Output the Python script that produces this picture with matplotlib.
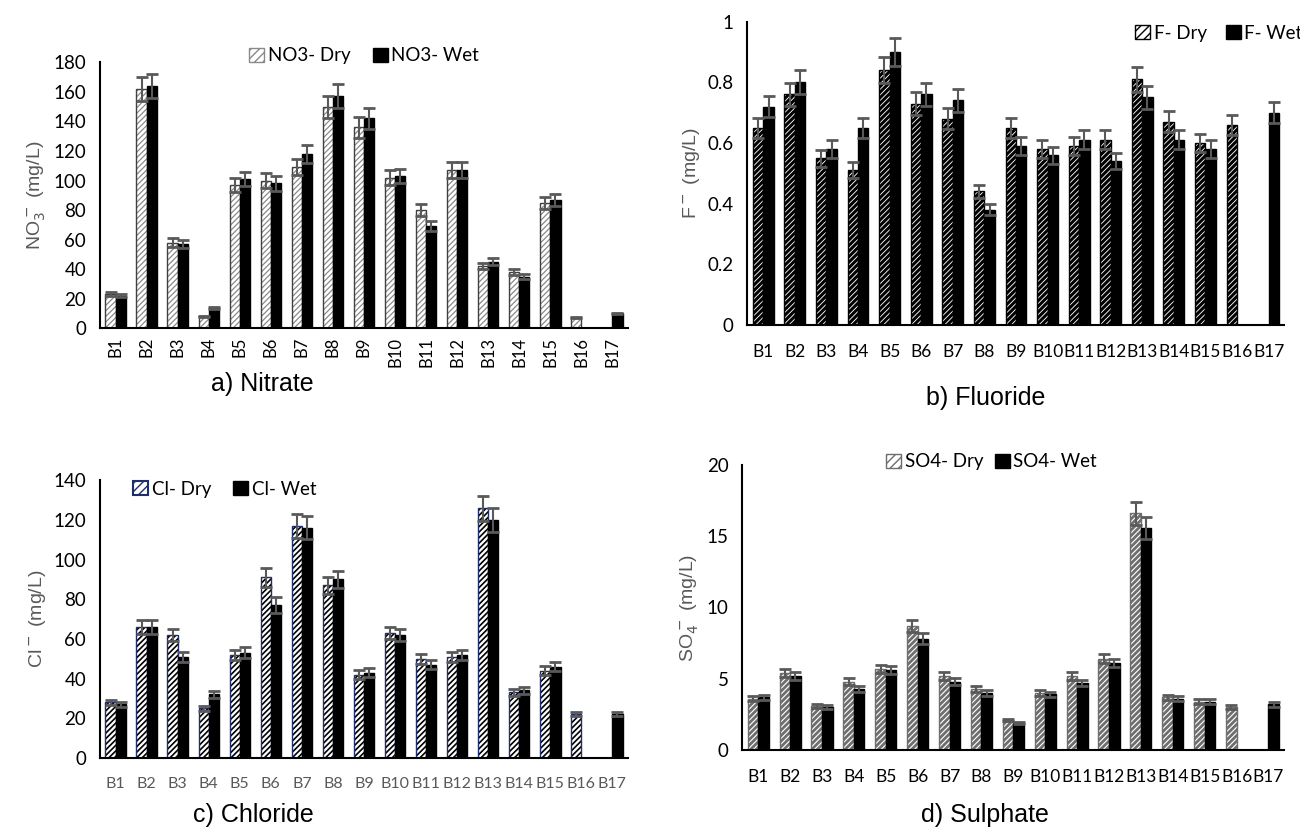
import numpy as np
import matplotlib.pyplot as plt
from matplotlib.patches import Patch

plt.rcParams['font.family'] = ['Lato', 'DejaVu Sans']

sites = ["B1", "B2", "B3", "B4", "B5", "B6", "B7", "B8", "B9", "B10",
         "B11", "B12", "B13", "B14", "B15", "B16", "B17"]

# Nitrate (mg/L)
no3_dry = [23, 162, 58, 8, 97, 100, 109, 150, 136, 102, 80, 107, 42, 38, 85, 7, 0]
no3_wet = [22, 164, 57, 14, 101, 98, 118, 157, 142, 103, 69, 107, 45, 35, 87, 0, 10]
no3_dry_err = [1.2, 8, 3, 0.5, 5, 5, 5.5, 7.5, 7, 5, 4, 5.5, 2, 2, 4, 0.4, 0]
no3_wet_err = [1.1, 8, 3, 0.7, 5, 5, 6, 8, 7, 5, 3.5, 5.5, 2.5, 2, 4, 0, 0.5]

# Fluoride (mg/L)
f_dry = [0.65, 0.76, 0.55, 0.51, 0.84, 0.73, 0.68, 0.44, 0.65, 0.58, 0.59, 0.61,
         0.81, 0.67, 0.60, 0.66, 0]
f_wet = [0.72, 0.80, 0.58, 0.65, 0.90, 0.76, 0.74, 0.38, 0.59, 0.56, 0.61, 0.54,
         0.75, 0.61, 0.58, 0, 0.70]
f_dry_err = [0.033, 0.038, 0.028, 0.026, 0.042, 0.037, 0.034, 0.022, 0.033, 0.029,
             0.030, 0.031, 0.041, 0.034, 0.030, 0.033, 0]
f_wet_err = [0.036, 0.040, 0.029, 0.033, 0.045, 0.038, 0.037, 0.019, 0.030, 0.028,
             0.031, 0.027, 0.038, 0.031, 0.029, 0, 0.035]

# Chloride (mg/L)
cl_dry = [28, 66, 62, 25, 52, 91, 117, 87, 42, 63, 50, 51, 126, 33, 44, 22, 0]
cl_wet = [27, 66, 51, 32, 53, 77, 116, 90, 43, 62, 47, 52, 120, 34, 46, 0, 22]
cl_dry_err = [1.4, 3.3, 3.1, 1.3, 2.6, 4.6, 5.9, 4.4, 2.1, 3.2, 2.5, 2.6, 6.3, 1.7, 2.2, 1.1, 0]
cl_wet_err = [1.4, 3.3, 2.6, 1.6, 2.7, 3.9, 5.8, 4.5, 2.2, 3.1, 2.4, 2.6, 6.0, 1.7, 2.3, 0, 1.1]

# Sulphate (mg/L)
so4_dry = [3.6, 5.4, 3.1, 4.8, 5.7, 8.7, 5.2, 4.3, 2.1, 4.0, 5.2, 6.4, 16.6, 3.7, 3.4, 3.0, 0]
so4_wet = [3.7, 5.2, 3.0, 4.3, 5.6, 7.8, 4.8, 4.0, 1.9, 3.9, 4.7, 6.1, 15.6, 3.6, 3.4, 0, 3.2]
so4_dry_err = [0.18, 0.27, 0.15, 0.24, 0.28, 0.43, 0.26, 0.21, 0.1, 0.2, 0.26, 0.32, 0.8, 0.18, 0.17, 0.15, 0]
so4_wet_err = [0.18, 0.26, 0.15, 0.21, 0.28, 0.39, 0.24, 0.2, 0.09, 0.19, 0.23, 0.3, 0.78, 0.18, 0.17, 0, 0.16]

fig = plt.figure(figsize=(13, 8.31), dpi=100)

GRAY = "#595959"
x = np.arange(len(sites))
w = 0.33


def draw(ax, dry, wet, dry_err, wet_err, hatch, hcolor, hlw, outline,
         ylim, yticks, ylabel, rot=0, tick_color="black", xfs=12.5, xpad=12):
    # hatch layer, then outline on top (hatch colour = edgecolor in mpl)
    with plt.rc_context({"hatch.linewidth": hlw}):
        ax.bar(x - w / 2, dry, w, facecolor="white", edgecolor=hcolor,
               hatch=hatch, linewidth=0)
    ax.bar(x - w / 2, dry, w, fill=False, edgecolor=outline, linewidth=1.0)
    ax.bar(x + w / 2, wet, w, color="black", edgecolor="black")
    for xs, v, e in [(x - w / 2, dry, dry_err), (x + w / 2, wet, wet_err)]:
        v = np.array(v, dtype=float)
        e = np.array(e, dtype=float)
        m = v > 0
        ax.errorbar(xs[m], v[m], yerr=e[m], fmt="none", ecolor=GRAY,
                    elinewidth=1.5, capsize=4, capthick=2)
    ax.set_xlim(-0.5, len(sites) - 0.5)
    ax.set_ylim(*ylim)
    ax.set_yticks(yticks)
    ax.set_xticks(x)
    ax.set_xticklabels(sites, rotation=rot, fontsize=xfs, color=tick_color)
    ax.tick_params(axis="x", length=0, pad=xpad)
    ax.tick_params(axis="y", length=0, labelsize=13.5, pad=10)
    for s in ["top", "right"]:
        ax.spines[s].set_visible(False)
    ax.spines["left"].set_linewidth(1.5)
    ax.spines["bottom"].set_linewidth(1.5)
    ax.set_ylabel(ylabel, color=GRAY, fontsize=14, family="Liberation Sans")
    with plt.rc_context({"hatch.linewidth": hlw}):
        hd = Patch(facecolor="white", edgecolor=hcolor, hatch=hatch[:4], linewidth=1)
    return [hd, Patch(color="black")]


leg_kw = dict(ncol=2, frameon=False, fontsize=13.5, handlelength=0.8,
              handleheight=0.8, handletextpad=0.2)

# a) Nitrate
ax1 = fig.add_axes([0.077, 0.605, 0.406, 0.32])
h = draw(ax1, no3_dry, no3_wet, no3_dry_err, no3_wet_err, "//////", "#8a8a8a", 0.9,
         "#404040", (0, 180), range(0, 181, 20), "NO$_3^-$ (mg/L)", rot=90, xfs=12,
         xpad=6)
ax1.legend(h, ["NO3- Dry", "NO3- Wet"], loc="upper center", bbox_to_anchor=(0.5, 1.12),
           columnspacing=1.2, **leg_kw)

# b) Fluoride
ax2 = fig.add_axes([0.575, 0.609, 0.413, 0.365])
h = draw(ax2, f_dry, f_wet, f_dry_err, f_wet_err, "//////", "black", 2.2,
         "black", (0, 1), [0, 0.2, 0.4, 0.6, 0.8, 1], "F$^-$ (mg/L)", xpad=14)
ax2.set_yticklabels(["0", "0.2", "0.4", "0.6", "0.8", "1"])
ax2.legend(h, ["F- Dry", "F- Wet"], loc="upper right", bbox_to_anchor=(1.065, 1.045),
           columnspacing=1.0, **leg_kw)

# c) Chloride
ax3 = fig.add_axes([0.077, 0.088, 0.406, 0.334])
h = draw(ax3, cl_dry, cl_wet, cl_dry_err, cl_wet_err, "//////", "black", 1.2,
         "#1f2d6b", (0, 140), range(0, 141, 20), "Cl$^-$ (mg/L)", tick_color=GRAY,
         xfs=11.5, xpad=14)
h[0] = Patch(facecolor="white", edgecolor="#1f2d6b", hatch="////", linewidth=1.5)
ax3.legend(h, ["Cl- Dry", "Cl- Wet"], loc="upper left", bbox_to_anchor=(0.03, 1.06),
           columnspacing=1.2, **leg_kw)

# d) Sulphate
ax4 = fig.add_axes([0.571, 0.0975, 0.417, 0.343])
h = draw(ax4, so4_dry, so4_wet, so4_dry_err, so4_wet_err, "//////", "#6e6e6e", 2.0,
         "#6e6e6e", (0, 20), range(0, 21, 5), "SO$_4^-$ (mg/L)", xpad=14)
ax4.legend(h, ["SO4- Dry", "SO4- Wet"], loc="upper center", bbox_to_anchor=(0.46, 1.1),
           columnspacing=0.6, **leg_kw)

for xf, yf, t in [(0.202, 0.538, "a) Nitrate"), (0.758, 0.521, "b) Fluoride"),
                  (0.195, 0.019, "c) Chloride"), (0.758, 0.019, "d) Sulphate")]:
    fig.text(xf, yf, t, fontsize=18, family="Liberation Sans", ha="center", va="center")

fig.savefig("out.png", dpi=100)
